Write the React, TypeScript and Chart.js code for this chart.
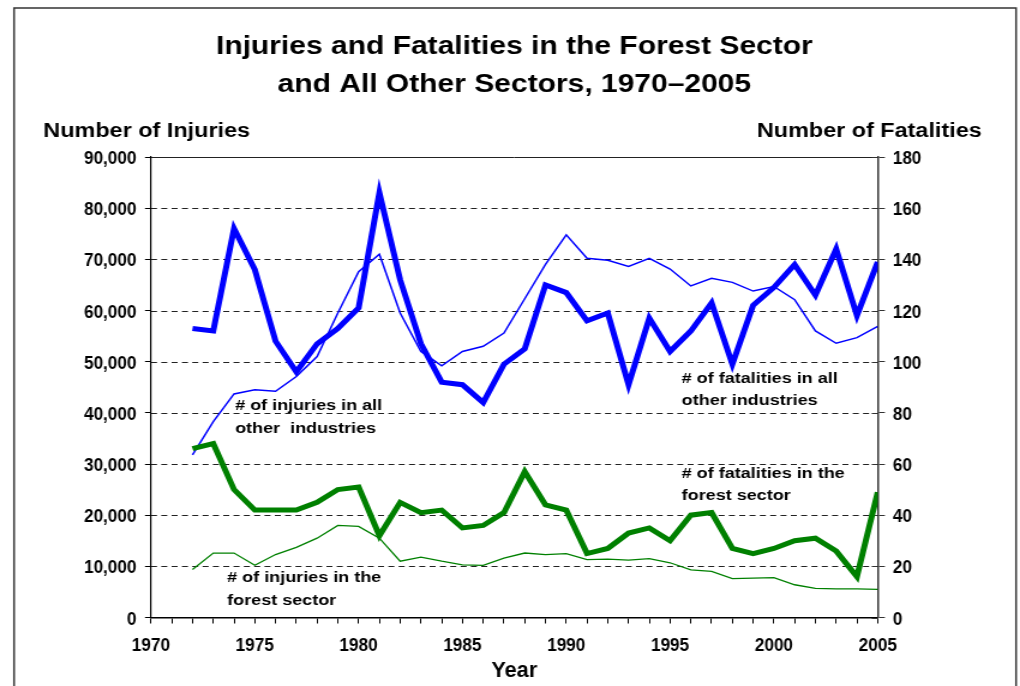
import React, { useEffect, useRef } from 'react';
import { Chart, registerables } from 'chart.js';

Chart.register(...registerables);

// ---- data ----
const YEARS = [
  1972, 1973, 1974, 1975, 1976, 1977, 1978, 1979, 1980, 1981, 1982, 1983,
  1984, 1985, 1986, 1987, 1988, 1989, 1990, 1991, 1992, 1993, 1994, 1995,
  1996, 1997, 1998, 1999, 2000, 2001, 2002, 2003, 2004, 2005,
];

// left axis: number of injuries
const INJURIES_OTHER = [
  31800, 38300, 43700, 44500, 44200, 47100, 51000, 59500, 67600, 71000, 59500, 52000,
  49200, 52000, 53000, 55600, 62300, 69000, 74800, 70200, 69800, 68600, 70200, 68100,
  64800, 66300, 65500, 63800, 64700, 62100, 56000, 53600, 54700, 56900,
];
const INJURIES_FOREST = [
  9400, 12600, 12600, 10200, 12300, 13700, 15500, 18000, 17800, 15500, 11000, 11800,
  11000, 10300, 10200, 11600, 12600, 12300, 12500, 11300, 11400, 11200, 11500, 10700,
  9300, 9000, 7600, 7700, 7800, 6400, 5700, 5600, 5600, 5500,
];

// right axis: number of fatalities
const FATALITIES_OTHER = [
  113, 112, 152, 136, 108, 96, 107, 113, 121, 166, 132, 107,
  92, 91, 84, 99, 105, 130, 127, 116, 119, 91, 117, 104,
  112, 123, 99, 122, 129, 138, 126, 144, 118, 139,
];
const FATALITIES_FOREST = [
  66, 68, 50, 42, 42, 42, 45, 50, 51, 32, 45, 41,
  42, 35, 36, 41, 57, 44, 42, 25, 27, 33, 35, 30,
  40, 41, 27, 25, 27, 30, 31, 26, 16, 49,
];

const X_LABEL_YEARS = [1970, 1975, 1980, 1985, 1990, 1995, 2000, 2005];

const TITLE_LINES = [
  'Injuries and Fatalities in the Forest Sector',
  'and All Other Sectors, 1970–2005',
];
const LEFT_AXIS_TITLE = 'Number of Injuries';
const RIGHT_AXIS_TITLE = 'Number of Fatalities';
const X_AXIS_TITLE = 'Year';

const NOTE_INJ_OTHER = ['# of injuries in all', 'other  industries'];
const NOTE_FAT_OTHER = ['# of fatalities in all', 'other industries'];
const NOTE_FAT_FOREST = ['# of fatalities in the', 'forest sector'];
const NOTE_INJ_FOREST = ['# of injuries in the', 'forest sector'];

// ---- styling ----
const SANS = "'Liberation Sans', Arial, sans-serif";
const BLUE = '#0000ff';
const GREEN = '#008000';
const NARROW_FACTOR = 0.82; // narrow face for axis numbers, like Arial Narrow

const CANVAS_W = 850; // drawn narrow, displayed stretched like the reference
const CANVAS_H = 686;

const pts = (vals: number[]) => YEARS.map((yr, i) => ({ x: yr, y: vals[i] }));

const narrowText = (
  ctx: CanvasRenderingContext2D,
  text: string,
  x: number,
  y: number,
  align: CanvasTextAlign,
) => {
  ctx.save();
  ctx.translate(x, y);
  ctx.scale(NARROW_FACTOR, 1);
  ctx.textAlign = align;
  ctx.textBaseline = 'alphabetic';
  ctx.fillText(text, 0, 0);
  ctx.restore();
};

const decorPlugin = {
  id: 'decor',
  beforeDatasetsDraw(chart: any) {
    const { ctx, chartArea: a, scales } = chart;
    const y = scales.y;
    const y2 = scales.y2;
    ctx.save();
    ctx.lineWidth = 1;
    ctx.strokeStyle = '#222';
    y.ticks.forEach((t: any) => {
      if (t.value <= y.min) return;
      const py = Math.round(y.getPixelForValue(t.value)) + 0.5;
      ctx.setLineDash(t.value >= y.max ? [] : [5, 3.6]);
      ctx.beginPath();
      ctx.moveTo(a.left, py);
      ctx.lineTo(a.right, py);
      ctx.stroke();
    });
    ctx.setLineDash([]);
    ctx.strokeStyle = '#333';
    y2.ticks.forEach((t: any) => {
      const py = Math.round(y2.getPixelForValue(t.value)) + 0.5;
      ctx.beginPath();
      ctx.moveTo(a.right - 5, py);
      ctx.lineTo(a.right, py);
      ctx.stroke();
    });
    ctx.restore();
  },
  afterDraw(chart: any) {
    const { ctx, chartArea: a, scales } = chart;
    const x = scales.x;
    const y = scales.y;
    const y2 = scales.y2;
    ctx.save();
    // outer frame
    ctx.strokeStyle = '#333';
    ctx.lineWidth = 1.5;
    ctx.strokeRect(11.7, 8, 835, 720);

    ctx.fillStyle = '#000';

    // tick labels (from the scales' own ticks), narrow face
    ctx.font = `bold 17.5px ${SANS}`;
    y.ticks.forEach((t: any) => {
      narrowText(ctx, String(t.label), a.left - 12, y.getPixelForValue(t.value) + 7, 'right');
    });
    y2.ticks.forEach((t: any) => {
      narrowText(ctx, String(t.label), a.right + 12.5, y2.getPixelForValue(t.value) + 7, 'left');
    });
    x.ticks.forEach((t: any) => {
      if (!t.label) return;
      narrowText(ctx, String(t.label), x.getPixelForValue(t.value), 650.7, 'center');
    });
    ctx.font = `bold 22px ${SANS}`;
    narrowText(ctx, X_AXIS_TITLE, (a.left + a.right) / 2, 677, 'center');

    // title
    ctx.font = `bold 25px ${SANS}`;
    ctx.textAlign = 'center';
    ctx.textBaseline = 'alphabetic';
    const cx = (a.left + a.right) / 2;
    ctx.fillText(TITLE_LINES[0], cx, 53.5);
    ctx.fillText(TITLE_LINES[1], cx, 91.5);

    // axis titles
    ctx.font = `bold 19.5px ${SANS}`;
    ctx.textAlign = 'left';
    ctx.fillText(LEFT_AXIS_TITLE, 36.1, 136.7);
    ctx.textAlign = 'right';
    ctx.fillText(RIGHT_AXIS_TITLE, 818.1, 136.7);

    // series notes, anchored to the scales
    ctx.font = `bold 15px ${SANS}`;
    ctx.textAlign = 'left';
    const note = (lines: string[], xv: number, yv: number, scale: any) => {
      const px = x.getPixelForValue(xv);
      const py = scale.getPixelForValue(yv);
      lines.forEach((s, i) => ctx.fillText(s, px, py + i * 22.5));
    };
    note(NOTE_INJ_OTHER, 1974.05, 40550, y);
    note(NOTE_FAT_OTHER, 1995.56, 91.8, y2);
    note(NOTE_FAT_FOREST, 1995.56, 54.6, y2);
    note(NOTE_INJ_FOREST, 1973.67, 6880, y);
    ctx.restore();
  },
};

export default function App() {
  const ref = useRef<HTMLCanvasElement | null>(null);

  useEffect(() => {
    if (!ref.current) return;
    const chart = new Chart(ref.current, {
      type: 'line',
      data: {
        datasets: [
          {
            label: 'Fatalities, all other industries',
            data: pts(FATALITIES_OTHER),
            yAxisID: 'y2',
            borderColor: BLUE,
            borderWidth: 5,
            pointRadius: 0,
            tension: 0,
          },
          {
            label: 'Fatalities, forest sector',
            data: pts(FATALITIES_FOREST),
            yAxisID: 'y2',
            borderColor: GREEN,
            borderWidth: 5,
            pointRadius: 0,
            tension: 0,
          },
          {
            label: 'Injuries, all other industries',
            data: pts(INJURIES_OTHER),
            yAxisID: 'y',
            borderColor: BLUE,
            borderWidth: 1.5,
            pointRadius: 0,
            tension: 0,
          },
          {
            label: 'Injuries, forest sector',
            data: pts(INJURIES_FOREST),
            yAxisID: 'y',
            borderColor: GREEN,
            borderWidth: 1.3,
            pointRadius: 0,
            tension: 0,
          },
        ],
      },
      options: {
        responsive: false,
        animation: false,
        devicePixelRatio: 1,
        events: [],
        layout: { padding: { top: 157, left: 0, right: 0, bottom: 0 } },
        plugins: {
          legend: { display: false },
          title: { display: false },
          tooltip: { enabled: false },
        },
        scales: {
          x: {
            type: 'linear',
            min: 1970,
            max: 2005,
            afterFit: (s: any) => {
              s.height = 68.5;
            },
            ticks: {
              display: false,
              stepSize: 1,
              autoSkip: false,
              maxRotation: 0,
              callback: (v: any) => (X_LABEL_YEARS.includes(Number(v)) ? String(v) : ''),
            },
            grid: {
              display: true,
              drawOnChartArea: false,
              drawTicks: true,
              tickLength: 6,
              color: '#000',
              lineWidth: 1,
            },
            border: { display: true, color: '#000', width: 1.5 },
          },
          y: {
            type: 'linear',
            position: 'left',
            min: 0,
            max: 90000,
            afterFit: (s: any) => {
              s.width = 125.8;
            },
            ticks: {
              display: false,
              stepSize: 10000,
              callback: (v: any) => Number(v).toLocaleString('en-US'),
            },
            grid: {
              display: true,
              drawOnChartArea: false,
              drawTicks: true,
              tickLength: 5,
              color: '#000',
              lineWidth: 1,
            },
            border: { display: true, color: '#000', width: 1.2 },
          },
          y2: {
            type: 'linear',
            position: 'right',
            min: 0,
            max: 180,
            afterFit: (s: any) => {
              s.width = 118.6;
            },
            ticks: {
              display: false,
              stepSize: 20,
              callback: (v: any) => String(v),
            },
            grid: {
              display: true,
              drawOnChartArea: false,
              drawTicks: true,
              tickLength: 6,
              color: '#333',
              lineWidth: 1,
            },
            border: { display: true, color: '#333', width: 1.5 },
          },
        },
      },
      plugins: [decorPlugin],
    } as any);
    return () => chart.destroy();
  }, []);

  return (
    <div
      style={{
        position: 'fixed',
        left: 0,
        top: 0,
        width: 1020,
        height: 686,
        background: '#fff',
        overflow: 'hidden',
      }}
    >
      <canvas
        ref={ref}
        width={CANVAS_W}
        height={CANVAS_H}
        style={{ width: '1020px', height: '686px', display: 'block' }}
      />
    </div>
  );
}
